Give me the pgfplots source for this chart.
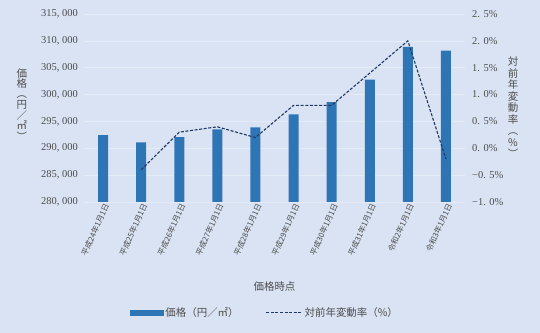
\documentclass[border=0pt]{standalone}
\usepackage{fontspec}
\setmainfont{Liberation Serif}
\newfontfamily\cjk{Noto Sans CJK JP}
\usepackage{graphicx}
\usepackage{pgfplots}
\pgfplotsset{compat=1.18}
\definecolor{bg}{HTML}{DAE3F3}
\definecolor{barblue}{HTML}{2E75B6}
\definecolor{linec}{HTML}{203864}
\definecolor{gridc}{HTML}{E6ECF7}
\newcommand{\vl}{\rotatebox[origin=c]{-90}{（}}
\newcommand{\vr}{\rotatebox[origin=c]{-90}{）}}
\begin{document}
\begin{tikzpicture}
\fill[bg] (0,0) rectangle (540bp,333bp);
\useasboundingbox (0,0) rectangle (540bp,333bp);
\begin{axis}[
  at={(84bp,131bp)}, anchor=south west, scale only axis,
  width=381bp, height=188bp,
  xmin=-0.5, xmax=9.5, ymin=280000, ymax=315000,
  scaled y ticks=false,
  ytick={280000,285000,290000,295000,300000,305000,310000,315000},
  yticklabels={{280, 000},{285, 000},{290, 000},{295, 000},{300, 000},{305, 000},{310, 000},{315, 000}},
  yticklabel style={font=\fontsize{10.5}{12}\selectfont, text=black!70, inner sep=1bp, xshift=-5bp},
  xtick={0,...,9},
  xticklabels={平成24年1月1日,平成25年1月1日,平成26年1月1日,平成27年1月1日,平成28年1月1日,平成29年1月1日,平成30年1月1日,平成31年1月1日,令和2年1月1日,令和3年1月1日},
  xticklabel style={font=\cjk\fontsize{7.8}{8}\selectfont, text=black!70, rotate=66, anchor=east, inner sep=1bp, yshift=-4bp, xshift=1bp},
  ymajorgrids, grid style={gridc, line width=0.7bp},
  axis line style={draw=none}, tick style={draw=none},
]
\addplot[ybar, bar width=10bp, fill=barblue, draw=none] coordinates {
 (0,292450) (1,291100) (2,292100) (3,293500) (4,293900)
 (5,296300) (6,298600) (7,302800) (8,308900) (9,308200)};
\end{axis}
\begin{axis}[
  at={(84bp,131bp)}, anchor=south west, scale only axis,
  width=381bp, height=188bp, clip=false,
  xmin=-0.5, xmax=9.5, ymin=-1, ymax=2.5,
  axis y line*=right, axis x line=none,
  ytick={-1,-0.5,0,0.5,1,1.5,2,2.5},
  yticklabels={{−1. 0\%},{−0. 5\%},{0. 0\%},{0. 5\%},{1. 0\%},{1. 5\%},{2. 0\%},{2. 5\%}},
  yticklabel style={font=\fontsize{10.5}{12}\selectfont, text=black!70, inner sep=1bp, xshift=6bp},
  axis line style={draw=none}, tick style={draw=none},
  legend style={at={(0.475,-0.59)}, anchor=center, draw=none, fill=none,
    font=\cjk\fontsize{10.5}{12}\selectfont, text=black!70, legend columns=2,
    /tikz/every even column/.append style={column sep=25bp}},
  legend cell align=left,
]
\addlegendimage{legend image code/.code={\fill[barblue] (0bp,-2.5bp) rectangle (33bp,2.5bp);}}
\addlegendentry{価格（円／㎡）}
\addplot[linec, dash pattern=on 3bp off 1.6bp, line width=1.1bp,
  legend image code/.code={\draw[linec, dash pattern=on 3bp off 1.6bp, line width=1bp] (0bp,0bp)--(36bp,0bp);}]
 coordinates {(1,-0.4) (2,0.3) (3,0.4) (4,0.2) (5,0.8) (6,0.8) (7,1.4) (8,2.0) (9,-0.2)};
\addlegendentry{対前年変動率（\%）}
\node[font=\cjk\fontsize{10.5}{10.6}\selectfont, text=black!70, align=center] at (rel axis cs:-0.163,0.516) {価\\格\\\vl\\円\\／\\㎡\\\vr};
\node[font=\cjk\fontsize{10.5}{11.6}\selectfont, text=black!70, align=center] at (rel axis cs:1.126,0.5) {対\\前\\年\\変\\動\\率\\\vl\\\%\\\vr};
\node[font=\cjk\fontsize{10.5}{12}\selectfont, text=black!70] at (rel axis cs:0.5,-0.452) {価格時点};
\end{axis}
\end{tikzpicture}
\end{document}
